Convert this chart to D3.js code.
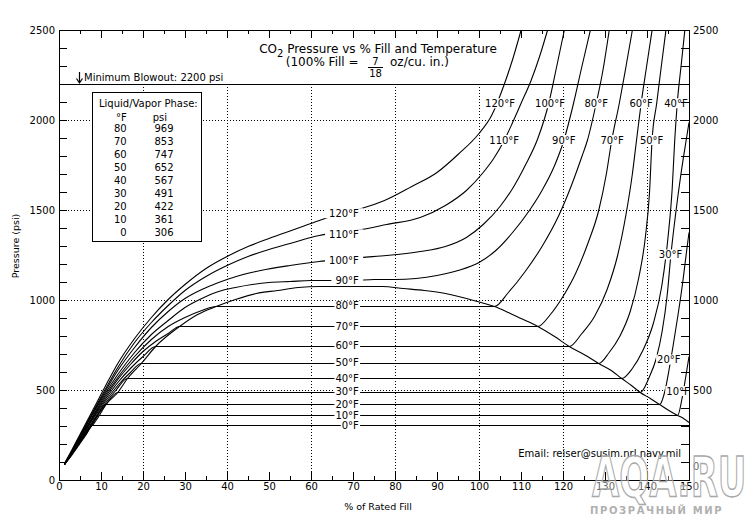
<!DOCTYPE html>
<html><head><meta charset="utf-8">
<script src="https://cdn.jsdelivr.net/npm/d3@7"></script>
<style>
body{margin:0;background:#fff;}
svg{display:block;font-family:"DejaVu Sans",sans-serif;}
</style></head><body>
<svg id="c" width="754" height="524"></svg>
<script>
// ---------------- DATA ----------------
const xTickLabels = [0,10,20,30,40,50,60,70,80,90,100,110,120,130,140,150];
const yTickLabels = [0,500,1000,1500,2000,2500];
const gridFill = [20,40,60,80,100,120,140];
const gridPsi = [500,1000,1500,2000];
const blowoutPsi = 2200;
const phaseF   = [80,70,60,50,40,30,20,10,0];
const phasePsi = [969,853,747,652,567,491,422,361,306];

// isotherms: [% of rated fill, psi]
const iso0F  = [[1.3,88],[3,140],[5,205],[6.5,258],[8,306],[150,306]];
const iso10F = [[1.3,88],[3,142],[5,210],[7.5,295],[9.6,361],[147.3,361],[148.3,450],[149.2,570],[150,690]];
const iso20F = [[1.3,89],[3,144],[5,214],[8,315],[11.2,422],[143,422],[144.3,500],[145.3,620],[146.3,760],[147.4,920],[148.5,1100],[149.3,1250],[150,1380]];
const iso30F = [[1.3,89],[3,146],[5,218],[8,322],[11,415],[14,491],[138.4,491],[140.5,570],[142.2,680],[143.6,830],[144.8,1030],[145.7,1253],[146.8,1480],[148,1690],[149.2,1870],[150,1990]];
const iso40F = [[1.3,89],[3,148],[5,222],[8,330],[11,428],[13.5,500],[16.3,567],[134,567],[136.5,625],[139,720],[141.5,870],[143.5,1080],[145,1350],[146,1620],[146.6,1889],[147.2,2094],[148.1,2300],[149,2500]];
const iso50F = [[1.3,90],[3,150],[5,226],[8,338],[11,440],[14,528],[17,600],[19.6,652],[128.5,652],[131,710],[133.5,800],[136,940],[138,1120],[139.6,1350],[140.6,1600],[141.2,1889],[142.3,2094],[143.4,2300],[144.5,2500]];
const iso60F = [[1.3,90],[3,152],[5,230],[8,345],[11,452],[14,545],[17,625],[20,690],[23,747],[121.5,747],[124.5,815],[127.5,910],[130.5,1060],[133,1250],[135,1480],[136.5,1700],[137.5,1889],[138.6,2094],[139.9,2300],[141.2,2500]];
const iso70F = [[1.3,90],[3,154],[5,234],[8,352],[11,462],[14,560],[17,645],[20,715],[23,772],[26,818],[28.7,853],[114,853],[117,925],[120,1020],[123,1150],[126,1320],[128.5,1500],[130.3,1700],[131.6,1889],[133.4,2094],[135,2300],[136.5,2500]];
const iso80F = [[1.3,90],[3,156],[5,238],[8,358],[11,472],[14,575],[18,690],[22,782],[26,855],[30,908],[34,945],[37.4,969],[103.7,969],[107,1045],[111,1160],[115,1300],[119,1470],[122,1640],[124.5,1800],[125.8,1889],[127.9,2094],[129.5,2280],[131,2500]];
const iso90F = [[1.3,91],[3,158],[5,242],[8,365],[11,482],[14,590],[18,710],[22,810],[26,890],[30,960],[34,1012],[38,1048],[42,1072],[46,1088],[50,1098],[55,1105],[60,1109],[65,1111],[70,1112],[75,1114],[80,1118],[85,1125],[90,1140],[95,1165],[100,1212],[104,1280],[108,1380],[112,1500],[115,1610],[118,1750],[120.2,1889],[122.5,2094],[124.5,2300],[126.5,2500]];
const iso100F = [[1.3,91],[3,160],[5,246],[8,372],[11,495],[14,610],[18,740],[22,850],[26,940],[30,1010],[34,1062],[38,1100],[43,1140],[48,1165],[55,1195],[62,1218],[67,1227],[72,1237],[78,1250],[86,1270],[92,1300],[97,1350],[101,1420],[105,1520],[108,1620],[111,1750],[114,1900],[116.6,2094],[118.5,2300],[120.3,2500]];
const iso110F = [[1.3,92],[3,162],[5,250],[8,380],[11,508],[14,630],[18,765],[22,880],[26,975],[30,1055],[35,1135],[40,1195],[45,1245],[50,1285],[55,1318],[62,1360],[67,1380],[72,1393],[78,1420],[86,1463],[92,1530],[97,1610],[101,1710],[103.5,1790],[106,1889],[108,1990],[110,2094],[112.4,2222],[114.5,2360],[116.3,2500]];
const iso120F = [[1.3,92],[3,164],[5,255],[8,388],[11,520],[14,650],[18,790],[22,905],[26,1005],[30,1090],[35,1180],[40,1245],[45,1300],[50,1345],[56,1395],[62,1444],[67,1481],[72,1509],[77.5,1556],[84,1635],[90,1713],[95,1810],[100,1930],[103,2030],[106,2200],[108,2340],[110,2500]];
// liquid/vapor saturation boundary
const satDome = [[8,306],[9.6,361],[11.2,422],[14,491],[16.3,567],[19.6,652],[23,747],[28.7,853],[33,920],[37.4,969],[42,1005],[47,1037],[52,1058],[57,1070],[62,1076],[67,1079],[72,1079],[77,1076],[82,1068],[87,1056],[92,1038],[97,1013],[100.5,990],[103.7,969],[107,935],[110,898],[114,853],[118,800],[121.5,747],[125,700],[128.5,652],[131.5,610],[134,567],[136.3,528],[138.4,491],[140.8,456],[143,422],[145.2,391],[147.3,361],[148.7,342],[150,325]];

const isotherms = [iso0F,iso10F,iso20F,iso30F,iso40F,iso50F,iso60F,iso70F,iso80F,iso90F,iso100F,iso110F,iso120F];
const isoNames  = ["0°F","10°F","20°F","30°F","40°F","50°F","60°F","70°F","80°F","90°F","100°F","110°F","120°F"];

// ---------------- CHART ----------------
const svg = d3.select("#c");
const x = d3.scaleLinear().domain([0,150]).range([59,689]);
const y = d3.scaleLinear().domain([0,2500]).range([480,30]);
const FONT = "DejaVu Sans";

svg.append("rect").attr("width",754).attr("height",524).attr("fill","#fff");
svg.append("defs").append("clipPath").attr("id","plot")
  .append("rect").attr("x",x(0)).attr("y",y(2500)).attr("width",x(150)-x(0)).attr("height",y(0)-y(2500));

// dotted grid
const grid = svg.append("g").attr("stroke","#000").attr("stroke-width",1)
  .attr("stroke-dasharray","1,2").attr("shape-rendering","crispEdges");
gridFill.forEach(v => grid.append("line")
  .attr("x1",x(v)+0.5).attr("x2",x(v)+0.5).attr("y1",y(blowoutPsi)).attr("y2",y(0)));
gridPsi.forEach(v => grid.append("line")
  .attr("x1",x(0)).attr("x2",x(150)).attr("y1",y(v)+0.5).attr("y2",y(v)+0.5));

// blowout line
svg.append("line").attr("x1",x(0)).attr("x2",x(150)).attr("y1",y(blowoutPsi)+0.5).attr("y2",y(blowoutPsi)+0.5)
  .attr("stroke","#000").attr("stroke-width",1).attr("shape-rendering","crispEdges");

// curves
const line = d3.line().x(d => x(d[0])).y(d => Math.round(y(d[1]))+0.5).curve(d3.curveMonotoneX);
const cg = svg.append("g").attr("clip-path","url(#plot)").attr("fill","none").attr("stroke","#000").attr("stroke-width",1.1);
isotherms.forEach(d => cg.append("path").attr("d", line(d)));
cg.append("path").attr("d", line(satDome));

// labels with white knock-out boxes
const lab = svg.append("g").attr("font-family",FONT).attr("font-size",10).attr("fill","#000");
function label(txt, px, py, anchor, padX){
  const g = lab.append("g");
  const t = g.append("text").attr("x",px).attr("y",py).attr("dy","0.36em").attr("text-anchor",anchor).text(txt);
  const b = t.node().getBBox();
  g.insert("rect","text").attr("x",b.x-padX).attr("y",py-5).attr("width",b.width+2*padX).attr("height",10).attr("fill","#fff");
}
// labels along the middle (x ≈ 71 % fill)
const midLabelPsi = [306,361,422,491,567,652,747,853,969,1111,1222,1365,1482];
isoNames.forEach((n,i) => label(n, x(71.4), y(midLabelPsi[i]), "end", i>8 ? 4 : 1));
// labels on the steep liquid branches
const topLabelFill = {"120°F":105,"110°F":106,"100°F":116.9,"90°F":120.2,"80°F":127.9,"70°F":131.7,"60°F":138.6,"50°F":141.1,"40°F":146.9,"30°F":145.6,"20°F":145.2,"10°F":147.4};
const topLabelPsi  = {"120°F":2093,"110°F":1889,"100°F":2093,"90°F":1889,"80°F":2093,"70°F":1889,"60°F":2093,"50°F":1889,"40°F":2093,"30°F":1253,"20°F":669,"10°F":494};
Object.keys(topLabelFill).forEach(k => label(k, x(topLabelFill[k]), y(topLabelPsi[k]), "middle", 1));

// axes
function styleAxis(g){
  g.attr("font-family",FONT).attr("font-size",10);
  g.selectAll("path,line").attr("stroke","#000").attr("shape-rendering","crispEdges");
  g.selectAll("text").attr("fill","#000");
}
svg.append("g").attr("transform",`translate(0,${y(0)})`)
  .call(d3.axisBottom(x).tickValues(d3.range(0,151,5)).tickSizeInner(-4).tickSizeOuter(0).tickFormat(""))
  .call(styleAxis);
svg.append("g").attr("transform",`translate(0,${y(0)})`)
  .call(d3.axisBottom(x).tickValues(xTickLabels).tickSizeInner(-8).tickSizeOuter(0).tickPadding(3))
  .call(styleAxis);
svg.append("g").attr("transform",`translate(0,${y(2500)})`)
  .call(d3.axisTop(x).tickValues(d3.range(0,151,5)).tickSizeInner(-4).tickSizeOuter(0).tickFormat(""))
  .call(styleAxis);
svg.append("g").attr("transform",`translate(0,${y(2500)})`)
  .call(d3.axisTop(x).tickValues(xTickLabels).tickSizeInner(-8).tickSizeOuter(0).tickFormat(""))
  .call(styleAxis);
svg.append("g").attr("transform",`translate(${x(0)},0)`)
  .call(d3.axisLeft(y).tickValues(d3.range(0,2501,100)).tickSizeInner(-8).tickSizeOuter(0).tickPadding(4)
    .tickFormat(d => yTickLabels.includes(d) ? d : ""))
  .call(styleAxis);
const rAx = svg.append("g").attr("transform",`translate(${x(150)},0)`)
  .call(d3.axisRight(y).tickValues(d3.range(0,2501,100)).tickSizeInner(-8).tickSizeOuter(0).tickPadding(4)
    .tickFormat(d => yTickLabels.includes(d) ? d : ""))
  .call(styleAxis);
// lift the right-hand "0" above the "150" fill label
rAx.selectAll(".tick").filter(d => d === 0).select("text").attr("dy","-1.1em");

// axis titles
svg.append("text").attr("x",378).attr("y",510).attr("text-anchor","middle")
  .attr("font-family",FONT).attr("font-size",9.5).text("% of Rated Fill");
svg.append("text").attr("transform","translate(19,246) rotate(-90)").attr("text-anchor","middle")
  .attr("font-family",FONT).attr("font-size",9.5).text("Pressure (psi)");

// title
const t1 = svg.append("text").attr("x",378).attr("y",53).attr("text-anchor","middle")
  .attr("font-family",FONT).attr("font-size",12);
t1.append("tspan").text("CO");
t1.append("tspan").attr("font-size",10).attr("dy",3.5).text("2");
t1.append("tspan").attr("dy",-3.5).text(" Pressure vs % Fill and Temperature");
svg.append("text").attr("x",358.5).attr("y",66).attr("text-anchor","end")
  .attr("font-family",FONT).attr("font-size",12).text("(100% Fill =");
svg.append("text").attr("x",375.5).attr("y",65).attr("text-anchor","middle")
  .attr("font-family",FONT).attr("font-size",10).text("7");
svg.append("line").attr("x1",368).attr("x2",383).attr("y1",67.5).attr("y2",67.5).attr("stroke","#000");
svg.append("text").attr("x",375.5).attr("y",77).attr("text-anchor","middle")
  .attr("font-family",FONT).attr("font-size",10).text("18");
svg.append("text").attr("x",390).attr("y",66).attr("text-anchor","start")
  .attr("font-family",FONT).attr("font-size",12).text("oz/cu. in.)");

// blowout annotation
svg.append("path").attr("d","M79.5,72V82M76.5,78.5L79.5,83L82.5,78.5").attr("fill","none").attr("stroke","#000").attr("stroke-width",1.2);
svg.append("text").attr("x",84).attr("y",80.5).attr("font-family",FONT).attr("font-size",10)
  .text("Minimum Blowout: " + blowoutPsi + " psi");

// phase table
svg.append("rect").attr("x",92.5).attr("y",92.5).attr("width",109).attr("height",149)
  .attr("fill","#fff").attr("stroke","#000").attr("shape-rendering","crispEdges");
const tb = svg.append("g").attr("font-family",FONT).attr("font-size",10);
tb.append("text").attr("x",99).attr("y",106.5).text("Liquid/Vapor Phase:");
tb.append("text").attr("x",126.7).attr("y",120.5).attr("text-anchor","end").text("°F");
tb.append("text").attr("x",152.7).attr("y",120.5).text("psi");
phaseF.forEach((f,i) => {
  tb.append("text").attr("x",126.7).attr("y",132+13*i).attr("text-anchor","end").text(f);
  tb.append("text").attr("x",173.5).attr("y",132+13*i).attr("text-anchor","end").text(phasePsi[i]);
});

// email
svg.append("text").attr("x",681).attr("y",457).attr("text-anchor","end")
  .attr("font-family",FONT).attr("font-size",10).text("Email: reiser@susim.nrl.navy.mil");

// watermark (horizontally squeezed with a transform so its box stays inside the page)
svg.append("text").attr("transform","translate(592,496) scale(0.63,1)").attr("font-family",FONT).attr("font-weight","bold")
  .attr("font-size",56)
  .attr("fill","#fff").attr("fill-opacity",0.4).attr("stroke","#a8a8a8").attr("stroke-width",1.5).text("AQA.RU");
svg.append("text").attr("x",590).attr("y",514).attr("font-family",FONT).attr("font-weight","bold")
  .attr("font-size",10).attr("letter-spacing",1.6)
  .attr("fill","#b0b0b0").text("ПРОЗРАЧНЫЙ МИР");
</script>
</body></html>
